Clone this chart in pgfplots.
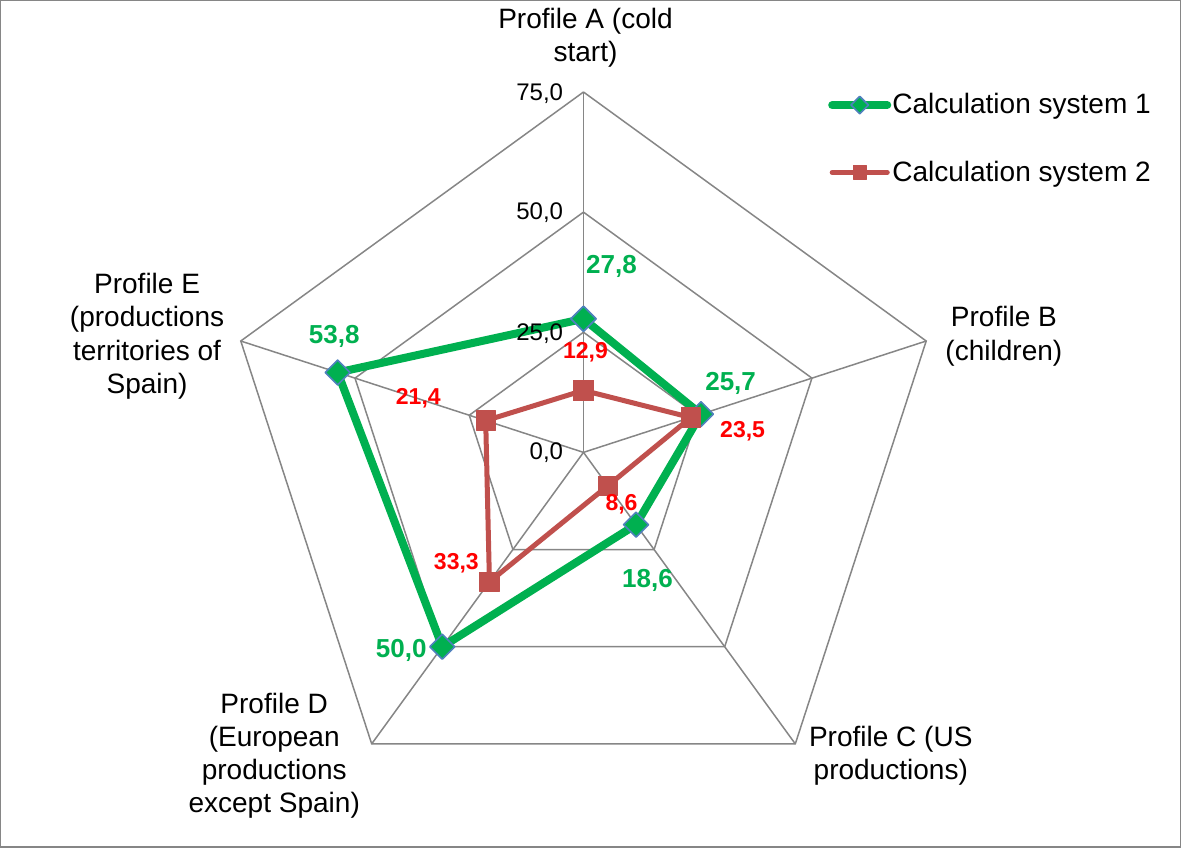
\documentclass[border=0pt]{standalone}
\usepackage{fontspec}
\setmainfont{Liberation Sans}
\usepackage{pgfplots}
\pgfplotsset{compat=1.18}
\usepgfplotslibrary{polar}
\definecolor{cgreen}{HTML}{00B050}
\definecolor{cred}{HTML}{C0504D}
\definecolor{cblue}{HTML}{4F81BD}
\definecolor{cgrid}{HTML}{868686}
\definecolor{lred}{HTML}{FF0000}
\begin{document}
\begin{tikzpicture}
\begin{polaraxis}[
  width=360pt, height=360pt, scale only axis,
  xmin=0, xmax=360, ymin=0, ymax=75,
  hide axis, clip=false,
  legend style={draw=none, fill=none, at={(axis description cs:0.839,1.0)}, anchor=north west,
    font=\fontsize{14}{16}\selectfont, row sep=21pt, inner sep=0pt,
    nodes={inner sep=0.5pt}},
  legend cell align=left,
  legend image code/.code={\draw[mark repeat=2,mark phase=2,#1,every mark/.append style={scale=0.7}] plot coordinates {(0pt,0pt) (13.75pt,0pt) (27.5pt,0pt)};},
]
\coordinate (c) at (axis cs:0,0);
% grid pentagons
\addplot[cgrid, line width=0.75pt, forget plot] coordinates {(90,25) (18,25) (306,25) (234,25) (162,25) (90,25)};
\addplot[cgrid, line width=0.75pt, forget plot] coordinates {(90,50) (18,50) (306,50) (234,50) (162,50) (90,50)};
\addplot[cgrid, line width=0.75pt, forget plot] coordinates {(90,75) (18,75) (306,75) (234,75) (162,75) (90,75)};
% spokes
\addplot[cgrid, line width=0.75pt, forget plot] coordinates {(90,0) (90,75)};
\addplot[cgrid, line width=0.75pt, forget plot] coordinates {(18,0) (18,75)};
\addplot[cgrid, line width=0.75pt, forget plot] coordinates {(306,0) (306,75)};
\addplot[cgrid, line width=0.75pt, forget plot] coordinates {(234,0) (234,75)};
\addplot[cgrid, line width=0.75pt, forget plot] coordinates {(162,0) (162,75)};
% series
\addplot[cgreen, line width=4pt, line join=round, line cap=round, mark=square*,
  mark options={rotate=45, fill=cgreen, draw=cblue, line width=0.8pt, mark size=4.4pt}]
  coordinates {(90,27.8) (18,25.7) (306,18.6) (234,50.0) (162,53.8) (90,27.8)};
\addlegendentry{Calculation system 1}
\addplot[cred, line width=2.5pt, line join=round, line cap=round, mark=square*,
  mark options={fill=cred, draw=cred, line width=0.5pt, mark size=4.8pt}]
  coordinates {(90,12.9) (18,23.5) (306,8.6) (234,33.3) (162,21.4) (90,12.9)};
\addlegendentry{Calculation system 2}
\end{polaraxis}
% frame
\draw[cgrid, line width=0.75pt] ([xshift=-291.1pt,yshift=225.6pt]c) rectangle ([xshift=298.1pt,yshift=-197.1pt]c);
% tick labels
\begin{scope}[every node/.style={font=\fontsize{12}{14}\selectfont, anchor=east, inner sep=0pt}]
\node at ([shift={(-10pt,179pt)}]c) {75,0};
\node at ([shift={(-10pt,119.5pt)}]c) {50,0};
\node at ([shift={(-10pt,59.5pt)}]c) {25,0};
\node at ([shift={(-10pt,0pt)}]c) {0,0};
\end{scope}
% category labels
\begin{scope}[every node/.style={font=\fontsize{14}{16.5}\selectfont, align=center, inner sep=0pt}]
\node at ([shift={(1pt,207pt)}]c) {Profile A (cold\\start)};
\node at ([shift={(210pt,58pt)}]c) {Profile B\\(children)};
\node at ([shift={(153.5pt,-151.5pt)}]c) {Profile C (US\\productions)};
\node at ([shift={(-154.5pt,-151.5pt)}]c) {Profile D\\(European\\productions\\except Spain)};
\node at ([shift={(-218pt,58pt)}]c) {Profile E\\(productions\\territories of\\Spain)};
\end{scope}
% data labels
\begin{scope}[every node/.style={font=\bfseries\fontsize{13}{15}\selectfont, text=cgreen, inner sep=0pt}]
\node at ([shift={(14pt,93pt)}]c) {27,8};
\node at ([shift={(73.5pt,34.5pt)}]c) {25,7};
\node at ([shift={(32pt,-64pt)}]c) {18,6};
\node at ([shift={(-91pt,-99pt)}]c) {50,0};
\node at ([shift={(-124.5pt,58pt)}]c) {53,8};
\end{scope}
\begin{scope}[every node/.style={font=\bfseries\fontsize{11.5}{13}\selectfont, text=lred, inner sep=0pt}]
\node at ([shift={(1pt,50pt)}]c) {12,9};
\node at ([shift={(79.5pt,10.5pt)}]c) {23,5};
\node at ([shift={(19pt,-26pt)}]c) {8,6};
\node at ([shift={(-63.5pt,-55.5pt)}]c) {33,3};
\node at ([shift={(-82.5pt,27pt)}]c) {21,4};
\end{scope}
\end{tikzpicture}
\end{document}
